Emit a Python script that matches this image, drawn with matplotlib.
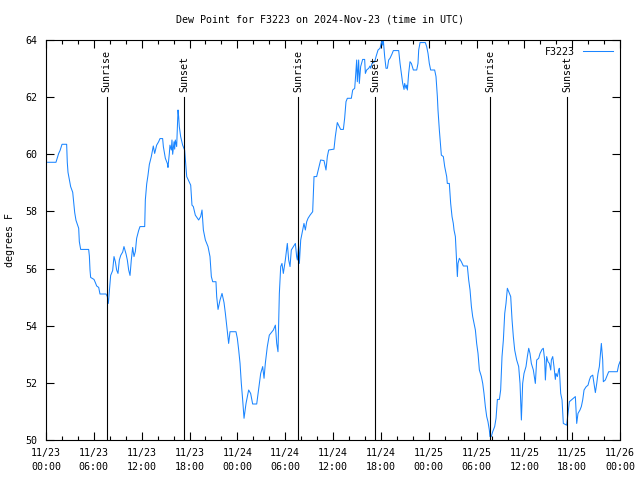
import numpy as np
import pandas as pd
import matplotlib
matplotlib.use("Agg")
import matplotlib.pyplot as plt
import matplotlib.dates as mdates

# hours after 2024-11-23 00:00 UTC, dew point in F
hours = [0.2, 1.25, 1.42, 1.59, 1.76, 2.01, 2.59, 2.67, 2.76, 3.09, 3.35, 3.6, 3.76, 4.1, 4.18, 4.35,
         5.35, 5.44, 5.52, 5.6, 6.02, 6.19, 6.36, 6.61, 6.77, 7.53, 7.69, 7.82, 8.03, 8.11, 8.36, 8.53,
         8.7, 8.86, 9.03, 9.2, 9.37, 9.62, 9.78, 10.04, 10.2, 10.37, 10.54, 10.7, 10.87, 11.04, 11.21,
         11.37, 11.62, 11.79, 12.38, 12.46, 12.63, 12.79, 12.96, 13.21, 13.46, 13.63, 13.88, 14.13,
         14.3, 14.63, 14.72, 14.97, 15.22, 15.3, 15.47, 15.55, 15.72, 15.8, 15.89, 16.06, 16.14, 16.22,
         16.39, 16.47, 16.56, 16.64, 16.72, 16.89, 17.14, 17.39,
         17.65, 18.15, 18.31, 18.48, 18.73, 19.15, 19.4, 19.57, 19.74, 19.99, 20.32, 20.57, 20.74,
         20.91, 21.32, 21.41, 21.58, 21.83, 22.08, 22.33, 22.5, 22.66, 22.91, 23.08, 23.83, 24.0, 24.17,
         24.34, 24.5, 24.67, 24.84, 25.09, 25.42, 25.67, 25.92, 26.43, 26.68, 26.93, 27.18, 27.35,
         27.51, 27.76, 28.01, 28.27, 28.52, 28.77, 28.94, 29.1, 29.27, 29.44, 29.6, 29.77, 30.02,
         30.27, 30.44, 30.61, 30.77, 31.03, 31.28, 31.44, 31.53, 31.69, 31.78, 31.95, 32.2, 32.36,
         32.53, 32.7, 32.87, 33.12, 33.45, 33.62, 33.95, 34.2, 34.45, 34.87, 35.12, 35.29, 35.46,
         36.12, 36.29, 36.54, 36.79,
         36.96, 37.3, 37.46, 37.63, 37.8, 38.3, 38.47, 38.72, 38.8, 38.97, 39.05, 39.22, 39.3, 39.47,
         39.72, 39.97, 40.06, 40.22, 40.48, 40.64, 40.73, 40.89, 41.23, 41.4, 41.65, 41.9, 42.15,
         42.23, 42.31, 42.48, 42.65, 42.82, 42.98, 43.15, 43.4, 43.57, 44.24, 44.41, 44.57, 44.74,
         44.91, 44.99, 45.16, 45.24, 45.33, 45.49, 45.66, 45.83, 46.08, 46.5, 46.66, 46.75, 46.92,
         47.58, 47.75, 47.92, 48.08, 48.25, 48.75, 48.92, 49.01, 49.09, 49.17, 49.34, 49.51, 49.59,
         49.84, 50.01, 50.26, 50.34, 50.59, 50.68, 50.76, 50.93, 51.09, 51.18, 51.35, 51.43, 51.6,
         51.68, 51.85, 52.1, 52.35, 52.85, 53.02, 53.19, 53.36, 53.52, 53.69, 53.86, 54.02, 54.19,
         54.36,
         54.61, 54.78, 54.94, 55.11, 55.28, 55.44, 55.61, 55.69, 55.86, 56.03, 56.28, 56.45, 56.62,
         56.87, 57.03, 57.2, 57.37, 57.54, 57.7, 57.87, 58.04, 58.29, 58.46, 58.62, 58.79, 59.04,
         59.29, 59.46, 59.63, 59.79, 59.96, 60.21, 60.38, 60.55, 60.71, 60.88, 61.13, 61.38, 61.55,
         61.8, 61.97, 62.22, 62.38, 62.55, 62.64, 62.8, 62.97, 63.14, 63.31, 63.39, 63.56, 63.72,
         63.89, 63.97, 64.14, 64.31, 64.39, 64.56, 64.73, 64.89, 65.31, 65.48, 65.65, 66.15, 66.4,
         66.57, 66.73, 66.98, 67.15, 67.32, 67.49, 67.74, 67.99, 68.16, 68.32, 68.58, 68.74, 68.91,
         69.08, 69.24, 69.41, 69.58, 69.66, 69.83, 69.91, 70.16, 70.33, 70.58, 71.66, 71.83, 72.0]

dewpoint = [59.72, 59.72, 59.88, 60.03, 60.13, 60.35, 60.35, 59.72, 59.37, 58.87, 58.67, 57.96, 57.69,
            57.41, 56.94, 56.67, 56.67, 56.44, 55.95, 55.69, 55.62, 55.51, 55.39, 55.34, 55.11, 55.11,
            55.02, 54.78, 55.51, 55.76, 55.93, 56.42, 56.24, 55.95, 55.83, 56.3, 56.46, 56.58, 56.77,
            56.51, 56.3, 55.95, 55.76, 56.3, 56.74, 56.42, 56.6, 57.06, 57.33, 57.47, 57.47, 58.4,
            58.96, 59.26, 59.64, 59.92, 60.29, 60.03, 60.32, 60.44, 60.55, 60.55, 60.27, 59.86, 59.68,
            59.54, 60.03, 60.32, 60.15, 60.5, 60.0, 60.44, 60.18, 60.5, 60.27, 60.85, 61.55, 61.32,
            60.97, 60.62, 60.32, 60.15,
            59.22, 58.92, 58.22, 58.17, 57.87, 57.7, 57.82, 58.05, 57.35, 57.0, 56.77, 56.42, 55.72,
            55.54, 55.54, 55.02, 54.57, 54.9, 55.13, 54.81, 54.43, 54.02, 53.38, 53.79, 53.79, 53.56,
            53.15, 52.68, 51.98, 51.4, 50.76, 51.28, 51.75, 51.63, 51.26, 51.26, 51.81, 52.33, 52.57,
            52.16, 52.68, 53.27, 53.67, 53.76, 53.85, 54.02, 53.38, 53.09, 55.13, 56.07, 56.18, 55.83,
            56.3, 56.88, 56.3, 56.07, 56.65, 56.77, 56.88, 56.42, 56.3, 56.77, 56.18, 57.0, 57.35,
            57.58, 57.35, 57.64, 57.76, 57.87, 57.99, 59.22, 59.22, 59.51, 59.8, 59.78, 59.45, 59.92,
            60.15, 60.18, 60.62, 61.11, 60.97,
            60.87, 60.87, 61.26, 61.84, 61.96, 61.96, 62.25, 62.31, 62.6, 63.3, 62.54, 63.3, 62.48,
            63.07, 63.32, 63.32, 62.83, 62.95, 63.01, 63.09, 63.01, 63.18, 63.24, 63.42, 63.65, 63.71,
            64.0, 63.82, 64.0, 63.42, 63.01, 63.01, 63.3, 63.36, 63.51, 63.63, 63.63, 63.18, 62.83,
            62.48, 62.27, 62.48, 62.31, 62.42, 62.25, 62.83, 63.24, 63.18, 62.95, 62.95, 63.18, 63.65,
            63.91, 63.91, 63.77, 63.53, 63.18, 62.95, 62.95, 62.72, 62.37, 62.02, 61.55, 60.85, 60.27,
            59.97, 59.92, 59.57, 59.22, 58.98, 58.98, 58.63, 58.28, 57.82, 57.58, 57.35, 57.12, 56.65,
            55.72, 56.18, 56.36, 56.24, 56.09, 56.09, 55.6, 55.25, 54.67, 54.32, 54.08, 53.85, 53.38,
            53.03, 52.45,
            52.22, 51.98, 51.63, 51.17, 50.82, 50.64, 50.35, 50.12, 50.12, 50.29, 50.47, 50.76, 51.42,
            51.42, 51.75, 52.92, 53.5, 54.43, 54.78, 55.31, 55.19, 55.02, 54.2, 53.62, 53.15, 52.8,
            52.57, 51.98, 50.7, 51.98, 52.33, 52.57, 52.92, 53.21, 53.03, 52.68, 52.45, 51.98, 52.8,
            52.86, 53.03, 53.17, 53.21, 52.8, 52.1, 52.92, 52.74, 52.68, 52.45, 52.8, 52.92, 52.57,
            52.12, 52.33, 52.22, 52.45, 52.51, 51.63, 51.4, 50.58, 50.52, 50.93, 51.34, 51.46, 51.52,
            50.58, 50.93, 51.05, 51.17, 51.4, 51.75, 51.86, 51.92, 52.1, 52.22, 52.27, 51.98, 51.66,
            51.98, 52.33, 52.57, 53.15, 53.38, 52.8, 52.04, 52.1, 52.22, 52.39, 52.39, 52.62, 52.74]

sunrise_hours = [7.62, 31.65, 55.72]
sunset_hours = [17.35, 41.32, 65.38]

start = pd.Timestamp("2024-11-23 00:00")
t = start + pd.to_timedelta(hours, unit="h")

plt.rcParams['font.family'] = ['DejaVu Sans Mono']
plt.rcParams['font.size'] = 7.2

fig = plt.figure(figsize=(6.4, 4.8), dpi=100)
ax = fig.add_axes([46/640, 40/480, 574/640, 400/480])

ax.plot(t, dewpoint, color='#1a85ff', lw=0.75, label='F3223')

for name, hrs in (('Sunrise', sunrise_hours), ('Sunset', sunset_hours)):
    for h in hrs:
        x = start + pd.Timedelta(hours=h)
        ax.plot([x, x], [50, 62], color='black', lw=0.8)
        ax.annotate(name, xy=(x, 62), xytext=(0, 4), textcoords='offset points',
                    rotation=90, ha='center', va='bottom')

ax.set_xlim(start, start + pd.Timedelta(hours=72))
ax.set_ylim(50, 64)
ax.set_yticks(np.arange(50, 65, 2))
ax.xaxis.set_major_locator(mdates.HourLocator(byhour=[0, 6, 12, 18]))
ax.xaxis.set_minor_locator(mdates.HourLocator(byhour=range(0, 24, 2)))
ax.xaxis.set_major_formatter(mdates.DateFormatter('%m/%d\n%H:%M'))
ax.tick_params(which='both', direction='in', top=True, right=True, width=0.8)
ax.tick_params(which='major', length=6, pad=6)
ax.tick_params(which='minor', length=3)
for sp in ax.spines.values():
    sp.set_linewidth(0.8)
for lab in ax.get_xticklabels():
    lab.set_linespacing(1.5)

ax.set_ylabel('degrees F', labelpad=8)
fig.text(0.5, 1 - 19/480, 'Dew Point for F3223 on 2024-Nov-23 (time in UTC)',
         ha='center', va='center')
ax.legend(loc='upper right', frameon=False, markerfirst=False, handlelength=3.0,
          borderaxespad=0.3, handletextpad=0.8)

fig.savefig('out.png', dpi=100)
